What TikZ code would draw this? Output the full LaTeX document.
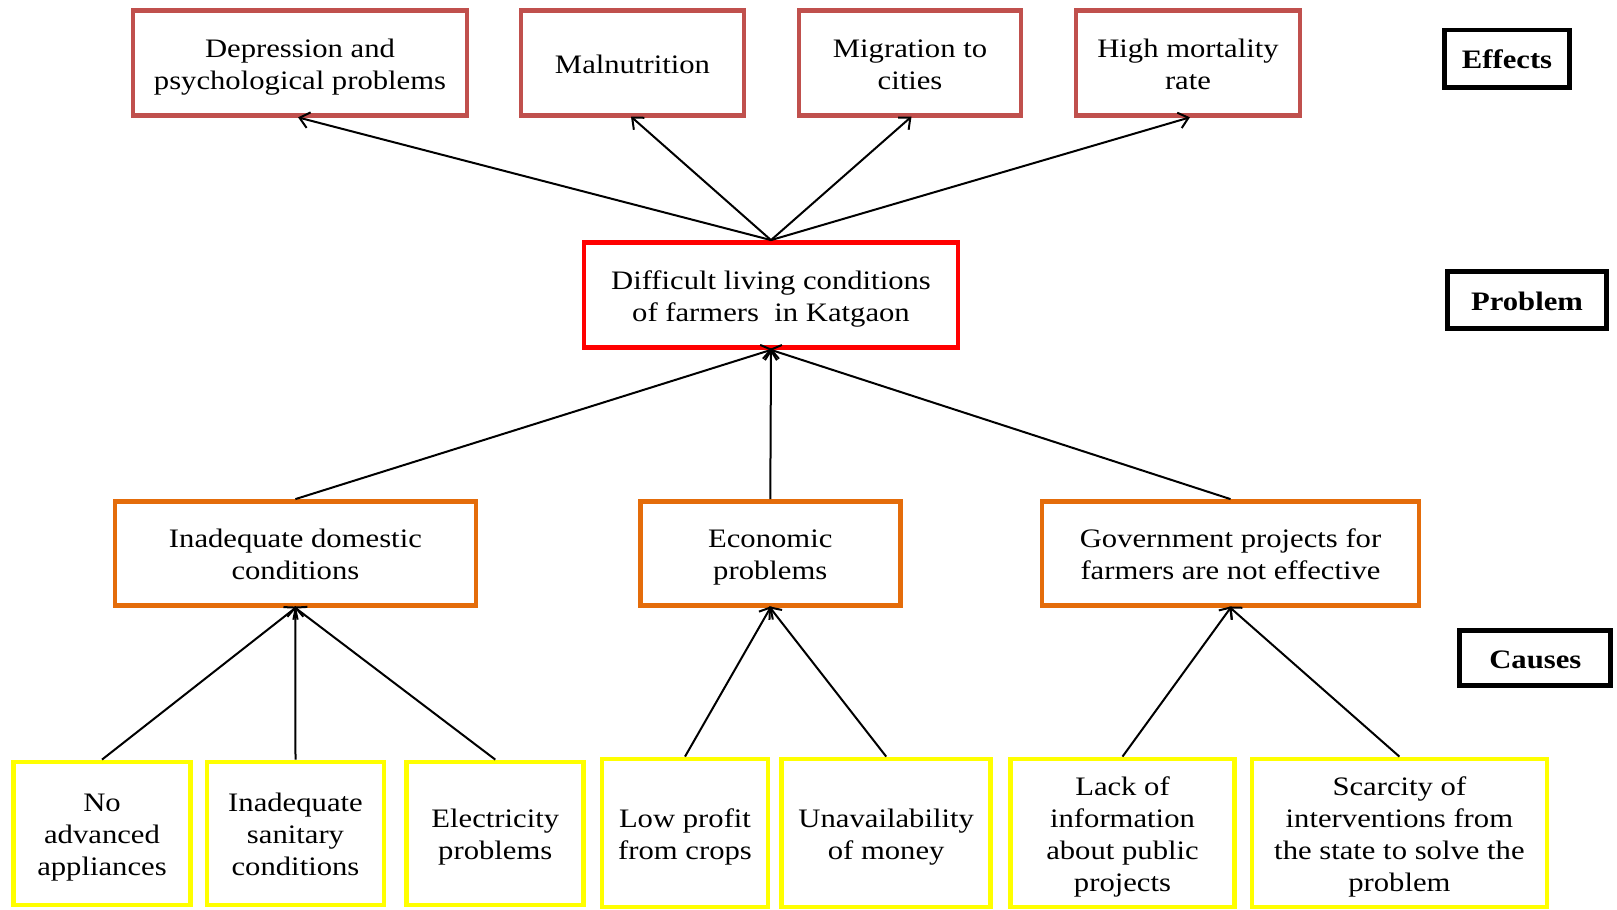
\documentclass[tikz,border=0pt]{standalone}
\usepackage{fontspec}
\setmainfont[FakeStretch=1.15]{Liberation Serif}
\usetikzlibrary{arrows.meta}
\definecolor{effectred}{RGB}{192,80,77}
\definecolor{probred}{RGB}{255,0,0}
\definecolor{causeorange}{RGB}{228,108,10}
\definecolor{rootyellow}{RGB}{255,255,0}
% fixed line box: 19.5pt above the baseline, 4.5pt below
\newcommand\lnS{\rule[-4.5pt]{0pt}{24pt}}
\tikzset{
  sz/.style 2 args={minimum width=#1*0.75pt, minimum height=#2*0.75pt},
  box/.style={draw, rectangle, inner sep=0pt, align=center, line width=3.6pt,
    font=\fontsize{20}{24}\selectfont},
  effect/.style={box, draw=effectred},
  problem/.style={box, draw=probred},
  cause/.style={box, draw=causeorange},
  root/.style={box, draw=rootyellow},
  tag/.style={draw=black, rectangle, inner sep=0pt, line width=3.6pt,
    font=\fontsize{20}{24}\selectfont\bfseries},
  arr/.style={-{Straight Barb[length=7pt,width=12pt]}, line width=1.5pt,
    shorten >=-1.5pt}
}
\begin{document}
\begin{tikzpicture}[x=0.75pt, y=-0.75pt]
\useasboundingbox (0,0) rectangle (1617,910);

% effects
\node[effect, sz={334}{105}] (e1) at (300,63) {\lnS Depression and\\psychological problems\lnS};
\node[effect, sz={223}{105}] (e2) at (632.5,63) {\lnS Malnutrition\lnS};
\node[effect, sz={222}{105}] (e3) at (910,63) {\lnS Migration to\\cities\lnS};
\node[effect, sz={224}{105}] (e4) at (1188,63) {\lnS High mortality\\rate\lnS};

% core problem
\node[problem, sz={374}{105}] (p) at (771,295) {\lnS Difficult living conditions\\of farmers\ \ in Katgaon\lnS};

% main causes
\node[cause, sz={361}{104}] (c1) at (295.4,553.5) {\lnS Inadequate domestic\\conditions\lnS};
\node[cause, sz={260}{104}] (c2) at (770.3,553.5) {\lnS Economic\\problems\lnS};
\node[cause, sz={377}{104}] (c3) at (1230.5,553.5) {\lnS Government projects for\\farmers are not effective\lnS};

% root causes
\node[root, sz={177}{143}] (b1) at (102,833.5) {\lnS No\\advanced\\appliances\lnS};
\node[root, sz={177}{143}] (b2) at (295.5,833.5) {\lnS Inadequate\\sanitary\\conditions\lnS};
\node[root, sz={177}{143}] (b3) at (495.3,833.5) {\lnS Electricity\\problems\lnS};
\node[root, sz={166}{148}] (b4) at (685,833) {\lnS Low profit\\from crops\lnS};
\node[root, sz={209}{148}] (b5) at (886.2,833) {\lnS Unavailability\\of money\lnS};
\node[root, sz={224}{148}] (b6) at (1122.5,833) {\lnS Lack of\\information\\about public\\projects\lnS};
\node[root, sz={295}{148}] (b7) at (1399.4,833) {\lnS Scarcity of\\interventions from\\the state to solve the\\problem\lnS};

% level tags
\node[tag, sz={124.5}{57.5}] (teff) at (1507,58.8) {\lnS Effects\lnS};
\node[tag, sz={159}{57.5}] (tprob) at (1527,300) {\lnS Problem\lnS};
\node[tag, sz={151}{55.5}] (tcause) at (1535.3,658) {\lnS Causes\lnS};

% problem -> effects
\foreach \e in {e1,e2,e3,e4} \draw[arr] (p.north) -- (\e.south);

% causes -> problem
\foreach \c in {c1,c2,c3} \draw[arr] (\c.north) -- (p.south);

% root causes -> causes
\foreach \b in {b1,b2,b3} \draw[arr] (\b.north) -- (c1.south);
\foreach \b in {b4,b5} \draw[arr] (\b.north) -- (c2.south);
\foreach \b in {b6,b7} \draw[arr] (\b.north) -- (c3.south);
\end{tikzpicture}
\end{document}
